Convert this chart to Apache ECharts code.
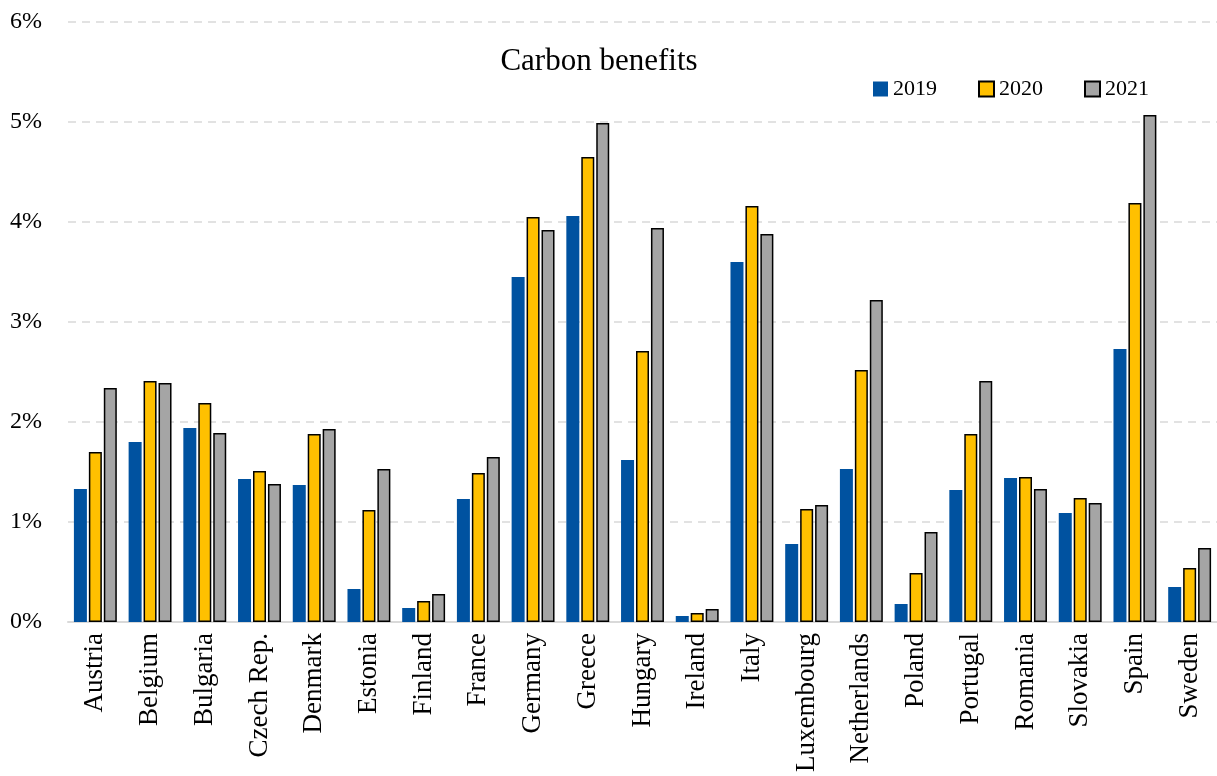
<!DOCTYPE html>
<html>
  <head>
    <meta charset="utf-8">
    <title>Carbon benefits</title>
    <script src="https://cdn.jsdelivr.net/npm/echarts@6/dist/echarts.min.js"></script>
    <style>
      body { margin: 0; background: #fff; }
      #main { width: 1217px; height: 776px; }
    </style>
  </head>
  <body>
    <div id="main"></div>
    <script type="text/javascript">
      var countries = ['Austria', 'Belgium', 'Bulgaria', 'Czech Rep.', 'Denmark', 'Estonia', 'Finland',
        'France', 'Germany', 'Greece', 'Hungary', 'Ireland', 'Italy', 'Luxembourg', 'Netherlands',
        'Poland', 'Portugal', 'Romania', 'Slovakia', 'Spain', 'Sweden'];
      var y2019 = [1.33, 1.80, 1.94, 1.43, 1.37, 0.33, 0.14, 1.23, 3.45, 4.06, 1.62, 0.06, 3.60, 0.78, 1.53, 0.18, 1.32, 1.44, 1.09, 2.73, 0.35];
      var y2020 = [1.70, 2.41, 2.19, 1.51, 1.88, 1.12, 0.21, 1.49, 4.05, 4.65, 2.71, 0.09, 4.16, 1.13, 2.52, 0.49, 1.88, 1.45, 1.24, 4.19, 0.54];
      var y2021 = [2.34, 2.39, 1.89, 1.38, 1.93, 1.53, 0.28, 1.65, 3.92, 4.99, 3.94, 0.13, 3.88, 1.17, 3.22, 0.90, 2.41, 1.33, 1.19, 5.07, 0.74];

      var font = 'Liberation Serif, DejaVu Serif, serif';
      var myChart = echarts.init(document.getElementById('main'));
      var option = {
        animation: false,
        textStyle: { fontFamily: font },
        title: {
          text: 'Carbon benefits',
          left: 594,
          textAlign: 'center',
          top: 41,
          textStyle: { fontFamily: font, fontSize: 31, fontWeight: 'normal', color: '#000' }
        },
        legend: {
          left: 868,
          top: 73,
          icon: 'rect',
          itemWidth: 15,
          itemHeight: 15,
          itemGap: 41,
          textStyle: { fontFamily: font, fontSize: 22, color: '#000' },
          data: ['2019', '2020', '2021']
        },
        grid: { left: 68, right: 0, top: 22, bottom: 154 },
        xAxis: {
          type: 'category',
          data: countries,
          axisLine: { lineStyle: { color: '#d9d9d9', width: 2 } },
          axisTick: { show: false },
          axisLabel: { rotate: 90, interval: 0, margin: 11, fontFamily: font, fontSize: 27, color: '#000' }
        },
        yAxis: {
          type: 'value',
          min: 0,
          max: 6,
          interval: 1,
          axisLine: { show: false },
          axisTick: { show: false },
          splitLine: { lineStyle: { color: '#d9d9d9', type: [8, 6], width: 1.5 } },
          axisLabel: {
            formatter: '{value}%',
            margin: 26,
            fontFamily: font,
            fontSize: 24,
            color: '#000'
          }
        },
        series: [
          {
            name: '2019', type: 'bar', data: y2019, barWidth: 13, barGap: '15%',
            itemStyle: { color: '#0052a0' }
          },
          {
            name: '2020', type: 'bar', data: y2020, barWidth: 13, barGap: '15%',
            itemStyle: { color: '#ffc000', borderColor: '#000', borderWidth: 1.5 }
          },
          {
            name: '2021', type: 'bar', data: y2021, barWidth: 13, barGap: '15%',
            itemStyle: { color: '#a5a5a5', borderColor: '#000', borderWidth: 1.5 }
          }
        ]
      };
      myChart.setOption(option);
    </script>
  </body>
</html>
